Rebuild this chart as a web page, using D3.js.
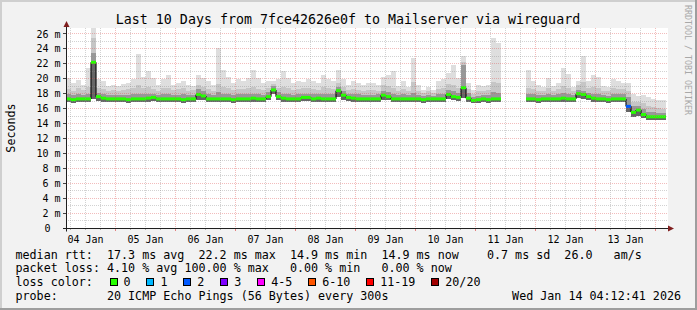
<!DOCTYPE html>
<html>
<head>
<meta charset="utf-8">
<script src="https://cdn.jsdelivr.net/npm/d3@7"></script>
<style>
  body { margin: 0; background: #f2f2f2; }
  svg { display: block; }
  text { font-family: 'DejaVu Sans Mono', monospace; fill: #000; white-space: pre; }
</style>
</head>
<body>
<div class="canvas"></div>
<script>
// 2 hour bins, 04 Jan 04:12 -> 14 Jan 04:12
const medianRtt = [
  17.3,17.2,17.3,17.3,17.3,22.2,17.6,17.4,17.3,17.3,
  17.3,17.3,17.2,17.3,17.3,17.3,17.4,17.5,17.3,17.3,
  17.3,17.3,17.3,17.2,17.3,17.3,17.9,17.7,17.3,17.3,
  17.3,17.3,17.3,17.2,17.3,17.3,17.3,17.4,17.3,17.3,
  17.6,18.5,17.6,17.4,17.3,17.3,17.3,17.5,17.5,17.3,
  17.4,17.3,17.3,17.3,18.4,17.8,17.5,17.4,17.3,17.3,
  17.3,17.3,17.3,17.8,17.6,17.3,17.3,17.3,17.3,17.3,
  17.3,17.2,17.3,17.3,17.3,17.3,17.9,17.6,17.5,18.8,
  17.4,17.1,17.2,17.3,17.2,17.3,17.3,null,null,null,
  null,null,17.3,17.3,17.2,17.3,17.3,17.3,17.3,17.4,
  17.3,17.3,18.0,17.9,17.6,17.4,17.3,17.3,17.2,17.3,
  17.3,17.3,16.3,15.5,15.8,15.2,14.9,14.9,14.9,14.9
];
const lossCount = [
  0,0,0,0,0,0,0,0,0,0, 0,0,0,0,0,0,0,0,0,0,
  0,0,0,0,0,0,0,0,0,0, 0,0,0,0,0,0,0,0,0,0,
  0,0,0,0,0,0,0,0,0,0, 0,0,0,0,0,0,0,0,0,0,
  0,0,0,0,0,0,0,0,0,0, 0,0,0,0,0,0,0,0,0,0,
  0,0,0,0,0,0,0,20,20,20, 20,20,0,0,0,0,0,0,0,0,
  0,0,0,0,0,0,0,0,0,0, 0,0,2,0,0,0,0,0,0,0
];
const smokeLow = [
  16.9,16.7,16.9,16.9,16.9,17.3,17.0,16.9,16.9,16.9,
  16.9,16.9,16.8,16.9,16.9,16.9,16.9,17.0,16.9,16.9,
  16.9,16.9,16.9,16.8,16.9,16.9,17.2,17.1,16.9,16.9,
  16.9,16.9,16.9,16.8,16.9,16.9,16.9,16.9,16.9,16.9,
  17.1,17.9,17.1,16.9,16.9,16.9,16.9,17.0,17.0,16.9,
  16.9,16.9,16.9,16.9,17.6,17.2,17.0,16.9,16.9,16.9,
  16.9,16.9,16.9,17.2,17.1,16.9,16.9,16.9,16.9,16.9,
  16.9,16.8,16.9,16.9,16.9,16.9,17.3,17.1,17.0,17.4,
  16.9,16.7,16.8,16.9,16.8,16.9,16.9,null,null,null,
  null,null,16.9,16.9,16.8,16.9,16.9,16.9,16.9,16.9,
  16.9,16.9,17.4,17.3,17.1,16.9,16.9,16.9,16.8,16.9,
  16.9,16.9,15.6,14.9,15.0,14.7,14.5,14.5,14.5,14.5
];
const smokeDark = [
  17.9,17.8,17.9,17.8,18.0,23.5,18.1,17.9,17.8,17.8,
  17.8,17.8,17.8,17.9,18.0,17.9,18.0,18.0,17.8,17.9,
  17.9,17.8,17.8,17.9,17.8,17.8,18.6,18.3,17.9,17.8,
  18.2,18.0,17.9,17.8,17.9,17.9,17.9,18.0,17.9,17.8,
  18.2,19.0,18.2,18.0,17.9,17.8,17.9,18.0,18.0,17.9,
  17.9,18.0,17.9,17.9,18.9,18.4,18.0,17.9,17.9,17.8,
  17.8,17.8,17.9,18.4,18.2,18.0,17.8,17.9,17.8,18.1,
  17.8,17.7,17.8,17.7,17.9,18.0,18.5,18.3,18.1,21.8,
  18.1,17.6,17.7,17.8,17.8,18.2,18.1,null,null,null,
  null,null,18.0,17.9,17.8,17.8,17.9,17.8,17.9,18.1,
  17.9,17.8,18.5,18.4,18.1,18.0,17.9,17.8,17.7,17.9,
  17.9,17.9,17.6,16.4,16.4,16.0,15.6,15.5,15.4,15.4
];
const smokeMid = [
  18.6,18.4,18.7,18.5,18.9,25.5,18.8,18.6,18.4,18.5,
  18.3,18.5,18.6,18.7,19.2,18.8,18.9,18.6,18.4,18.7,
  18.8,18.5,18.6,18.7,18.4,18.5,19.2,18.9,18.6,18.4,
  19.3,18.9,18.7,18.5,18.6,18.6,18.7,18.9,18.6,18.5,
  18.8,19.3,18.8,18.9,18.7,18.5,18.6,18.7,18.8,18.6,
  18.5,18.9,18.7,18.6,19.4,18.9,18.5,18.6,18.5,18.4,
  18.5,18.5,18.4,19.1,19.0,18.8,18.4,18.6,18.3,19.5,
  18.4,18.1,18.3,18.1,18.6,18.8,19.3,19.2,18.8,22.2,
  18.6,18.0,18.3,18.3,18.5,19.6,19.4,null,null,null,
  null,null,18.8,18.6,18.4,18.3,18.7,18.4,18.6,19.0,
  18.8,18.3,19.1,19.6,18.8,18.9,18.8,18.4,18.3,18.7,
  18.6,18.6,18.3,16.9,16.9,16.7,16.4,16.2,16.1,16.0
];
const smokeHigh = [
  20.1,19.4,19.8,19.2,21.5,26.8,19.9,19.7,19.0,19.1,
  19.0,19.3,19.4,19.9,23.3,20.2,21.0,20.1,19.1,20.0,
  20.5,19.2,19.4,19.7,19.2,19.0,20.5,20.1,19.7,19.1,
  24.1,21.2,20.3,19.4,19.9,19.7,20.1,21.2,20.1,19.4,
  19.7,19.7,19.9,21.0,20.1,19.4,19.7,19.6,19.9,19.7,
  19.4,20.5,19.9,19.7,21.2,19.9,19.2,19.7,19.4,19.2,
  19.4,19.4,19.2,20.3,20.5,21.1,19.0,19.7,18.9,22.8,
  19.2,18.5,18.9,18.5,19.7,19.9,20.8,21.9,20.1,23.0,
  19.4,18.5,19.2,19.0,19.2,25.4,24.8,null,null,null,
  null,null,21.2,19.7,19.2,18.9,20.1,19.0,19.4,21.4,
  20.7,18.9,19.7,23.0,19.7,20.5,20.3,19.0,18.9,19.9,
  19.7,19.4,19.4,18.0,17.7,17.8,17.6,17.3,17.1,17.1
];

const yTicks = [0,2,4,6,8,10,12,14,16,18,20,22,24,26];
const yLabels = ['0','2 m','4 m','6 m','8 m','10 m','12 m','14 m','16 m','18 m','20 m','22 m','24 m','26 m'];
const dayLabels = ['04 Jan','05 Jan','06 Jan','07 Jan','08 Jan','09 Jan','10 Jan','11 Jan','12 Jan','13 Jan'];
const lossLabels = ['0','1','2','3','4-5','6-10','11-19','20/20'];
const lossColours = ['#26ff00','#00b8ff','#0059ff','#7e00ff','#ff00ff','#ff5500','#ff0000','#a10000'];

const titleText = 'Last 10 Days from 7fce42626e0f to Mailserver via wireguard';
const legendRows = [
  'median rtt:  17.3 ms avg  22.2 ms max  14.9 ms min  14.9 ms now    0.7 ms sd  26.0   am/s',
  'packet loss: 4.10 % avg 100.00 % max   0.00 % min   0.00 % now',
  'loss color:',
  'probe:       20 ICMP Echo Pings (56 Bytes) every 300s'
];
const stampText = 'Wed Jan 14 04:12:41 2026';

const dims = { width: 697, height: 310 };
const plot = { left: 66, top: 28, width: 600, height: 200 };
const start = new Date(2026, 0, 4, 4, 12, 41);
const end = new Date(2026, 0, 14, 4, 12, 41);
const binTime = i => d3.timeHour.offset(start, i * 2);

const x = d3.scaleTime().domain([start, end]).range([plot.left, plot.left + plot.width]);
const y = d3.scaleLinear().domain([0, 26.8]).range([plot.top + plot.height, plot.top]);
const px = v => Math.floor(v) + 0.5;

const lossColour = n => {
  if (n <= 3) return lossColours[n];
  if (n <= 5) return lossColours[4];
  if (n <= 10) return lossColours[5];
  if (n <= 19) return lossColours[6];
  return lossColours[7];
};

const svg = d3.select('.canvas')
  .append('svg')
  .attr('width', dims.width)
  .attr('height', dims.height);

// background and shaded frame
svg.append('rect').attr('width', dims.width).attr('height', dims.height).attr('fill', '#f2f2f2');
svg.append('rect').attr('width', dims.width).attr('height', 2).attr('fill', '#cfcfcf');
svg.append('rect').attr('width', 2).attr('height', dims.height).attr('fill', '#cfcfcf');
svg.append('rect').attr('y', dims.height - 2).attr('width', dims.width).attr('height', 2).attr('fill', '#9e9e9e');
svg.append('rect').attr('x', dims.width - 2).attr('width', 2).attr('height', dims.height).attr('fill', '#9e9e9e');

svg.append('rect')
  .attr('x', plot.left).attr('y', plot.top)
  .attr('width', plot.width + 2).attr('height', plot.height)
  .attr('fill', '#fff');

const graph = svg.append('g');
const idx = d3.range(medianRtt.length);

// smoke, outer pings lightest
const layers = [
  { top: smokeHigh, fill: '#dedede' },
  { top: smokeMid, fill: '#c6c6c6' },
  { top: smokeDark, fill: '#989898' },
  { top: medianRtt, fill: '#666666' }
];
layers.forEach(layer => {
  graph.append('g').selectAll('rect')
    .data(idx.filter(i => layer.top[i] != null))
    .enter().append('rect')
    .attr('x', i => x(binTime(i)))
    .attr('width', i => x(binTime(i + 1)) - x(binTime(i)))
    .attr('y', i => y(layer.top[i]))
    .attr('height', i => Math.max(0, y(smokeLow[i]) - y(layer.top[i])))
    .attr('fill', layer.fill)
    .attr('shape-rendering', 'crispEdges');
});

// median
graph.append('g').selectAll('line')
  .data(idx.filter(i => medianRtt[i] != null && medianRtt[i + 1] != null && medianRtt[i] !== medianRtt[i + 1]))
  .enter().append('line')
  .attr('x1', i => x(binTime(i + 1))).attr('x2', i => x(binTime(i + 1)))
  .attr('y1', i => y(medianRtt[i])).attr('y2', i => y(medianRtt[i + 1]))
  .attr('stroke', '#111').attr('stroke-width', 1.2);

graph.append('g').selectAll('line')
  .data(idx.filter(i => medianRtt[i] != null))
  .enter().append('line')
  .attr('x1', i => x(binTime(i))).attr('x2', i => x(binTime(i + 1)))
  .attr('y1', i => y(medianRtt[i])).attr('y2', i => y(medianRtt[i]))
  .attr('stroke', i => lossColour(lossCount[i]))
  .attr('stroke-width', 3);

// grid
const grid = svg.append('g').attr('fill', 'none').attr('stroke-dasharray', '1,1');
const minorY = d3.range(1, 27, 2);
const minorCol = 'rgba(143,143,143,0.4)';
const majorCol = 'rgba(222,79,79,0.38)';

grid.selectAll('.hmin').data(minorY).enter().append('line')
  .attr('x1', plot.left).attr('x2', plot.left + plot.width + 2)
  .attr('y1', d => px(y(d))).attr('y2', d => px(y(d)))
  .attr('stroke', minorCol);
grid.selectAll('.hmaj').data(yTicks.slice(1)).enter().append('line')
  .attr('x1', plot.left).attr('x2', plot.left + plot.width + 2)
  .attr('y1', d => px(y(d))).attr('y2', d => px(y(d)))
  .attr('stroke', majorCol);

const sixHours = d3.timeHour.every(6).range(start, end).filter(d => d.getHours() !== 0);
const midnights = d3.timeDay.range(start, end);
grid.selectAll('.vmin').data(sixHours).enter().append('line')
  .attr('x1', d => px(x(d))).attr('x2', d => px(x(d)))
  .attr('y1', plot.top).attr('y2', plot.top + plot.height)
  .attr('stroke', minorCol);
grid.selectAll('.vmaj').data(midnights).enter().append('line')
  .attr('x1', d => px(x(d))).attr('x2', d => px(x(d)))
  .attr('y1', plot.top).attr('y2', plot.top + plot.height)
  .attr('stroke', majorCol);

// ticks
const ticks = svg.append('g');
ticks.selectAll('.yt').data(yTicks.slice(1)).enter().append('line')
  .attr('x1', plot.left - 3).attr('x2', plot.left)
  .attr('y1', d => px(y(d))).attr('y2', d => px(y(d)))
  .attr('stroke', '#444');
ticks.selectAll('.xt').data(midnights).enter().append('line')
  .attr('x1', d => px(x(d))).attr('x2', d => px(x(d)))
  .attr('y1', plot.top + plot.height).attr('y2', plot.top + plot.height + 3)
  .attr('stroke', 'rgba(222,79,79,0.7)');
ticks.selectAll('.xtm').data(sixHours).enter().append('line')
  .attr('x1', d => px(x(d))).attr('x2', d => px(x(d)))
  .attr('y1', plot.top + plot.height).attr('y2', plot.top + plot.height + 2)
  .attr('stroke', 'rgba(143,143,143,0.7)');

// axes
const axisY = px(y(0));
svg.append('line')
  .attr('x1', plot.left - 3).attr('x2', plot.left + plot.width + 2)
  .attr('y1', axisY).attr('y2', axisY)
  .attr('stroke', '#1f1f1f');
svg.append('line')
  .attr('x1', plot.left + 0.5).attr('x2', plot.left + 0.5)
  .attr('y1', axisY + 3).attr('y2', plot.top - 2)
  .attr('stroke', '#1f1f1f');
svg.append('path')
  .attr('d', `M${plot.left - 2.5},${plot.top - 1}L${plot.left + 3.5},${plot.top - 1}L${plot.left + 0.5},${plot.top - 7}Z`)
  .attr('fill', '#801f1f');
svg.append('path')
  .attr('d', `M${plot.left + plot.width + 2},${axisY - 3}L${plot.left + plot.width + 2},${axisY + 3}L${plot.left + plot.width + 8},${axisY}Z`)
  .attr('fill', '#801f1f');

// axis labels
svg.append('g').selectAll('text').data(yTicks).enter().append('text')
  .attr('x', (d, i) => i === 0 ? 50.5 : 60.5)
  .attr('y', d => y(d) + 3.6)
  .attr('text-anchor', 'end')
  .style('font-size', '10px')
  .text((d, i) => yLabels[i]);

const firstDay = d3.timeDay.floor(start);
svg.append('g').selectAll('text').data(dayLabels).enter().append('text')
  .attr('x', (d, i) => x(d3.timeHour.offset(d3.timeDay.offset(firstDay, i), 12)))
  .attr('y', 242.5)
  .attr('text-anchor', 'middle')
  .style('font-size', '10px')
  .text(d => d);

svg.append('text')
  .attr('transform', 'translate(15,128) rotate(-90)')
  .attr('text-anchor', 'middle')
  .style('font-size', '11.7px')
  .text('Seconds');

svg.append('text')
  .attr('x', 348).attr('y', 23.5)
  .attr('text-anchor', 'middle')
  .style('font-size', '13.3px')
  .text(titleText);

svg.append('text')
  .attr('transform', 'translate(685,5) rotate(90)')
  .style('font-size', '8.3px')
  .style('fill', '#a8a8a8')
  .text('RRDTOOL / TOBI OETIKER');

// legend
const rowY = [258.5, 272.3, 286.1, 299.8];
svg.append('g').selectAll('text').data(legendRows).enter().append('text')
  .attr('x', 15.5)
  .attr('y', (d, i) => rowY[i])
  .attr('xml:space', 'preserve')
  .style('font-size', '11.7px')
  .text(d => d);

svg.append('text')
  .attr('x', 681)
  .attr('y', rowY[3])
  .attr('text-anchor', 'end')
  .style('font-size', '11.7px')
  .text(stampText);

const charW = 7.03;
let cursor = 109.5;
const swatches = lossLabels.map(label => {
  const item = { label, sx: cursor, tx: cursor + 14 };
  cursor = item.tx + label.length * charW + 15.9;
  return item;
});
const lossLegend = svg.append('g');
lossLegend.selectAll('rect').data(swatches).enter().append('rect')
  .attr('x', d => Math.round(d.sx) + 0.5)
  .attr('y', 278.5)
  .attr('width', 7).attr('height', 7)
  .attr('fill', (d, i) => lossColours[i])
  .attr('stroke', '#000');
lossLegend.selectAll('text').data(swatches).enter().append('text')
  .attr('x', d => d.tx)
  .attr('y', rowY[2])
  .style('font-size', '11.7px')
  .text(d => d.label);
</script>
</body>
</html>
